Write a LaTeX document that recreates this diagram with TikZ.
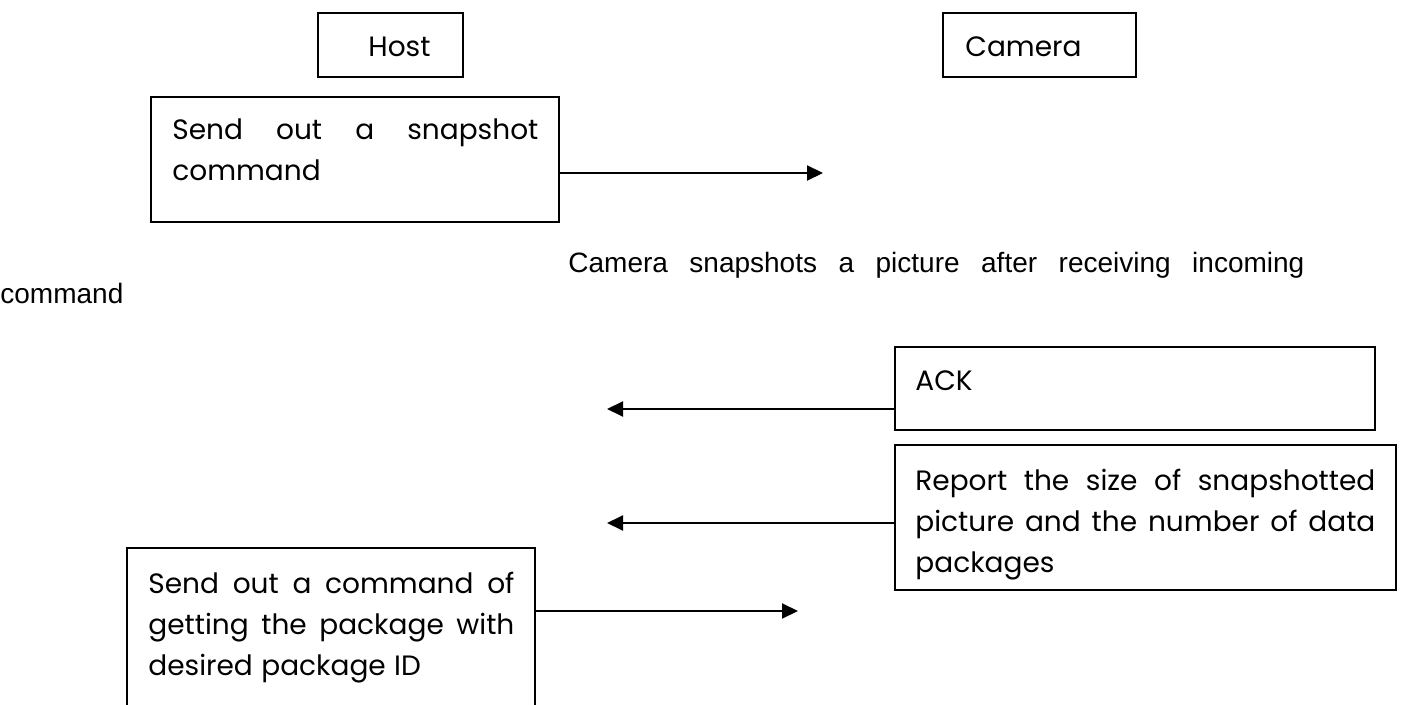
\documentclass[tikz,border=0pt]{standalone}
\usepackage{fontspec}
\setmainfont{Poppins}
\newfontfamily\notefont{Liberation Sans}
\usetikzlibrary{arrows.meta}

\tikzset{
  box/.style={draw, line width=1pt, inner sep=0pt, outer sep=0pt, anchor=north west},
  boxtext/.style={inner sep=0pt, anchor=base west, font=\fontsize{14pt}{20.5pt}\selectfont},
  msg/.style={line width=1pt, -{Triangle[length=8pt,width=7.5pt]}},
}

% justified paragraph whose every line, the last included, is set flush
\newcommand{\jpar}[2]{\parbox[t]{#1}{\spaceskip=0.3em plus 10em\relax
  \parfillskip=0pt plus 1fil\relax #2}}

\begin{document}
\begin{tikzpicture}[x=0.5pt, y=-0.5pt]
\useasboundingbox (0,0) rectangle (1406,705);
\clip (0,0) rectangle (1406,705);

% participants
\node[box, minimum width=72.5pt, minimum height=32pt] (host) at (318,13) {};
\node[boxtext] (hostlbl) at (368,57) {Host};
\node[box, minimum width=96.5pt, minimum height=32pt] (camera) at (943,13) {};
\node[boxtext] (cameralbl) at (965,57) {Camera};

% host: snapshot command
\node[box, minimum width=204pt, minimum height=62.5pt] (snap) at (151,97) {};
\node[boxtext] (snaptxt) at (172,140)
  {\jpar{183pt}{Send out a snapshot\linebreak command}};
\coordinate (snaptip) at (823,173);
\draw[msg] (snap.east |- snaptip) -- (snaptip);

% camera note
\node[inner sep=0pt, anchor=base west, font=\notefont\fontsize{14pt}{15.5pt}\selectfont]
  (note) at (0,273)
  {\parbox[t]{652pt}{\spaceskip=0.3em plus 10em\relax\parfillskip=0pt plus 1fil\relax
   \hspace*{284pt}Camera snapshots a picture after receiving incoming\linebreak command}};

% camera: ACK
\node[box, minimum width=240pt, minimum height=41.5pt] (ack) at (895,347) {};
\node[boxtext] (acktxt) at (915,390) {ACK};
\coordinate (acktip) at (607,409);
\draw[msg] (ack.west |- acktip) -- (acktip);

% camera: size report
\node[box, minimum width=250.5pt, minimum height=72.5pt] (report) at (895,445) {};
\node[boxtext] (reporttxt) at (915,490)
  {\jpar{230pt}{Report the size of snapshotted\linebreak picture and the number of data\linebreak packages}};
\coordinate (reporttip) at (607,523);
\draw[msg] (report.west |- reporttip) -- (reporttip);

% host: package request
\node[box, minimum width=204pt, minimum height=100pt] (getpkg) at (127,548) {};
\node[boxtext] (getpkgtxt) at (148,593)
  {\jpar{183pt}{Send out a command of\linebreak getting the package with\linebreak desired package ID}};
\coordinate (getpkgtip) at (798,611);
\draw[msg] (getpkg.east |- getpkgtip) -- (getpkgtip);
\end{tikzpicture}
\end{document}
